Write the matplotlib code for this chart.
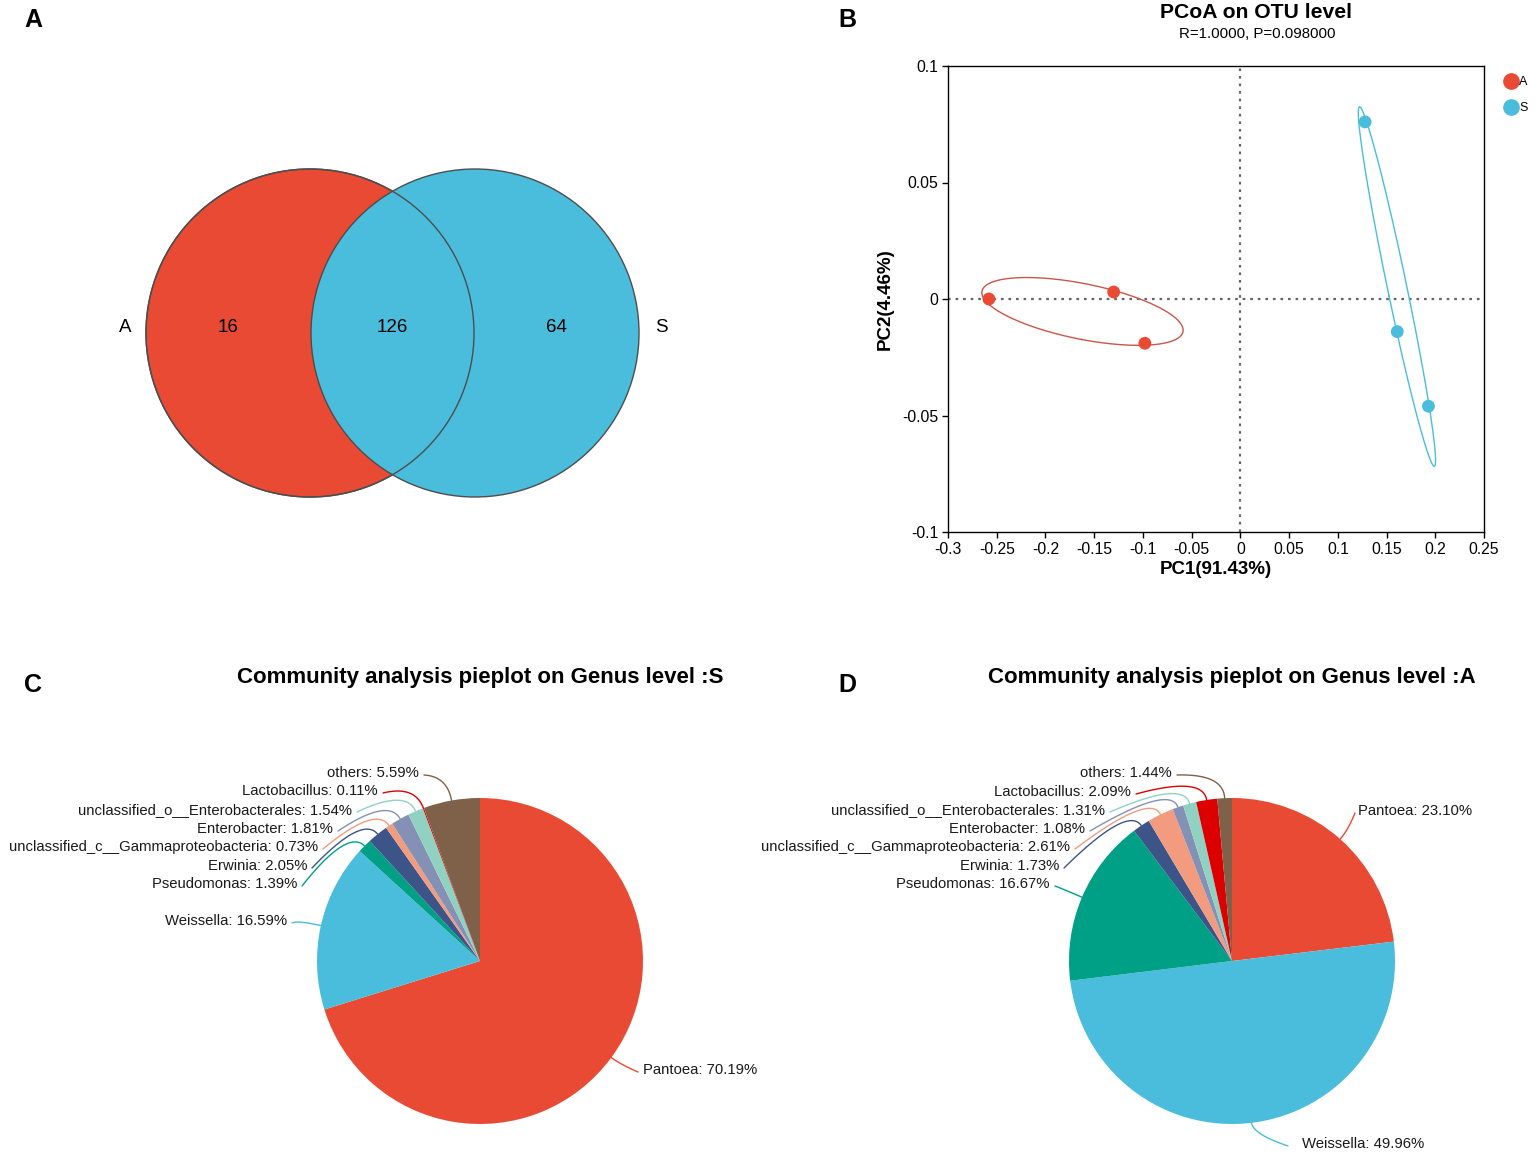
import numpy as np
import matplotlib
matplotlib.use('Agg')
import matplotlib.pyplot as plt
from matplotlib.patches import Circle
from matplotlib.lines import Line2D

plt.rcParams['font.family'] = ['Liberation Sans', 'DejaVu Sans']

W, H = 1535, 1154

# ---------------- data ----------------
venn_names = ['A', 'S']
venn_counts = [16, 126, 64]          # only A, shared, only S

pcoa_groups = ['A', 'S']
pc1 = {'A': [-0.258, -0.130, -0.098], 'S': [0.128, 0.161, 0.193]}
pc2 = {'A': [0.000, 0.003, -0.019], 'S': [0.076, -0.014, -0.046]}
pc1_var = 91.43
pc2_var = 4.46
anosim_r = 1.0
anosim_p = 0.098

genus = ['Pantoea', 'Weissella', 'Pseudomonas', 'Erwinia',
         'unclassified_c__Gammaproteobacteria', 'Enterobacter',
         'unclassified_o__Enterobacterales', 'Lactobacillus', 'others']
pct_S = [70.19, 16.59, 1.39, 2.05, 0.73, 1.81, 1.54, 0.11, 5.59]
pct_A = [23.10, 49.96, 16.67, 1.73, 2.61, 1.08, 1.31, 2.09, 1.44]

# ---------------- style / layout ----------------
red = '#E94A33'
blue = '#49BDDB'
pie_cols = ['#E94A33', '#49BDDB', '#00A087', '#3C5488', '#F39B7F',
            '#8491B4', '#91D1C2', '#DC0000', '#7E6148']
grp_cols = {'A': red, 'S': blue}
ell_cols = {'A': '#C8574A', 'S': '#49BDDB'}

# label anchor positions in pixels (x, y, ha, gap), same order as genus
lab_S = [(643, 1070, 'left', 5), (287, 921, 'right', 5), (297, 884, 'right', 5),
         (307, 866, 'right', 5), (318, 847, 'right', 5), (333, 829, 'right', 5),
         (352, 810, 'right', 5), (378, 791, 'right', 5), (419, 773, 'right', 5)]
lab_A = [(1358, 811, 'left', 3), (1302, 1144, 'left', 14), (1050, 884, 'right', 5),
         (1059, 866, 'right', 5), (1070, 847, 'right', 5), (1085, 829, 'right', 5),
         (1105, 810, 'right', 5), (1131, 792, 'right', 5), (1172, 773, 'right', 5)]


def box(x0, y0, x1, y1):
    return [x0 / W, 1 - y1 / H, (x1 - x0) / W, (y1 - y0) / H]


fig = plt.figure(figsize=(W / 100, H / 100), dpi=100)

for letter, (px, py) in zip('ABCD', [(33, 20), (847, 20), (33, 685), (847, 685)]):
    fig.text(px / W, 1 - py / H, letter, fontsize=18, fontweight='bold',
             ha='center', va='center')

# ---------------- A: Venn ----------------
av = fig.add_axes(box(0, 0, 760, 600))
av.set_xlim(0, 760)
av.set_ylim(600, 0)
av.axis('off')
r = 164
av.add_patch(Circle((310, 333), r, fc=red, ec='#4d4d4d', lw=1))
av.add_patch(Circle((475, 333), r, fc=blue, ec='#4d4d4d', lw=1))
av.add_patch(Circle((310, 333), r, fc='none', ec='#4d4d4d', lw=1))
for x, n in zip([228, 392, 556], venn_counts):
    av.text(x, 327, str(n), fontsize=13.5, ha='center', va='center')
av.text(125, 327, venn_names[0], fontsize=13.5, ha='center', va='center')
av.text(661, 327, venn_names[1], fontsize=13.5, ha='center', va='center')

# ---------------- B: PCoA ----------------
ap = fig.add_axes(box(948, 66, 1484, 532))


def conf_ellipse(x, y, n_std=1.22):
    x = np.asarray(x)
    y = np.asarray(y)
    vals, vecs = np.linalg.eigh(np.cov(x, y))
    t = np.linspace(0, 2 * np.pi, 200)
    unit = np.vstack([np.cos(t), np.sin(t)])
    pts = vecs @ (np.sqrt(vals)[:, None] * unit) * n_std
    return pts[0] + x.mean(), pts[1] + y.mean()


ap.axhline(0, color='#666666', ls=(0, (1.2, 2.2)), lw=1.6, zorder=1)
ap.axvline(0, color='#666666', ls=(0, (1.2, 2.2)), lw=1.6, zorder=1)
for g in pcoa_groups:
    ex, ey = conf_ellipse(pc1[g], pc2[g])
    ap.plot(ex, ey, color=ell_cols[g], lw=1, zorder=2)
    ap.scatter(pc1[g], pc2[g], s=85, color=grp_cols[g], edgecolor='none',
               zorder=3)

ap.set_xlim(-0.3, 0.25)
ap.set_ylim(-0.1, 0.1)
xt = np.round(np.arange(-0.3, 0.2501, 0.05), 2) + 0.0
yt = np.round(np.arange(-0.1, 0.1001, 0.05), 2) + 0.0
ap.set_xticks(xt)
ap.set_xticklabels([f'{v:g}' for v in xt])
ap.set_yticks(yt)
ap.set_yticklabels([f'{v:g}' for v in yt])
ap.tick_params(direction='out', length=4, width=1, labelsize=11.3, pad=3)
for s in ap.spines.values():
    s.set_linewidth(1)
ap.set_xlabel(f'PC1({pc1_var:.2f}%)', fontsize=13.5, fontweight='bold', labelpad=3)
ap.set_ylabel(f'PC2({pc2_var:.2f}%)', fontsize=13.5, fontweight='bold', labelpad=6)

fig.text(1256 / W, 1 - 13 / H, 'PCoA on OTU level', fontsize=15.2,
         fontweight='bold', ha='center', va='center')
fig.text(1257 / W, 1 - 34 / H, f'R={anosim_r:.4f}, P={anosim_p:.6f}',
         fontsize=10.8, ha='center', va='center')

handles = [Line2D([], [], marker='o', ls='', color=grp_cols[g], markersize=11)
           for g in pcoa_groups]
fig.legend(handles, pcoa_groups, loc='upper left',
           bbox_to_anchor=(1503 / W, 1 - 76 / H), frameon=False,
           fontsize=9, handletextpad=0.0, labelspacing=1.15,
           handlelength=1.3, borderpad=0, borderaxespad=0)


# ---------------- C / D: pies ----------------
def draw_pie(region, center, R, values, labels_pos, title):
    x0, y0, x1, y1 = region
    cx, cy = center
    ax = fig.add_axes(box(x0, y0, x1, y1))
    wedges, _ = ax.pie(values, colors=pie_cols, startangle=90,
                       counterclock=False, radius=1,
                       wedgeprops=dict(linewidth=0))
    ax.set_aspect('auto')
    ax.set_xlim((x0 - cx) / R, (x1 - cx) / R)
    ax.set_ylim((cy - y1) / R, (cy - y0) / R)
    ax.axis('off')
    t = np.linspace(0, 1, 40)[:, None]
    for w, name, v, (px, py, ha, gap) in zip(wedges, genus, values, labels_pos):
        tx, ty = (px - cx) / R, (cy - py) / R
        ax.text(tx, ty, f'{name}: {v:.2f}%', fontsize=10.7, ha=ha,
                va='center', color='#1a1a1a')
        ang = np.deg2rad((w.theta1 + w.theta2) / 2)
        p2 = np.array([np.cos(ang), np.sin(ang)])
        if ha == 'right':
            p0 = np.array([tx + gap / R, ty - 2 / R])
            p1 = 1.15 * p2
        else:
            p0 = np.array([tx - gap / R, ty - 2 / R])
            p1 = 1.07 * p2
        b = (1 - t) ** 2 * p0 + 2 * (1 - t) * t * p1 + t ** 2 * p2
        ax.plot(b[:, 0], b[:, 1], color=w.get_facecolor(), lw=1,
                solid_capstyle='round')
    fig.text(cx / W, 1 - 678 / H, title, fontsize=16, fontweight='bold',
             ha='center', va='center')


draw_pie((0, 700, 760, 1154), (480, 961), 163, pct_S, lab_S,
         'Community analysis pieplot on Genus level :S')
draw_pie((760, 700, 1535, 1154), (1232, 961), 163, pct_A, lab_A,
         'Community analysis pieplot on Genus level :A')

fig.savefig('out.png', dpi=100)
